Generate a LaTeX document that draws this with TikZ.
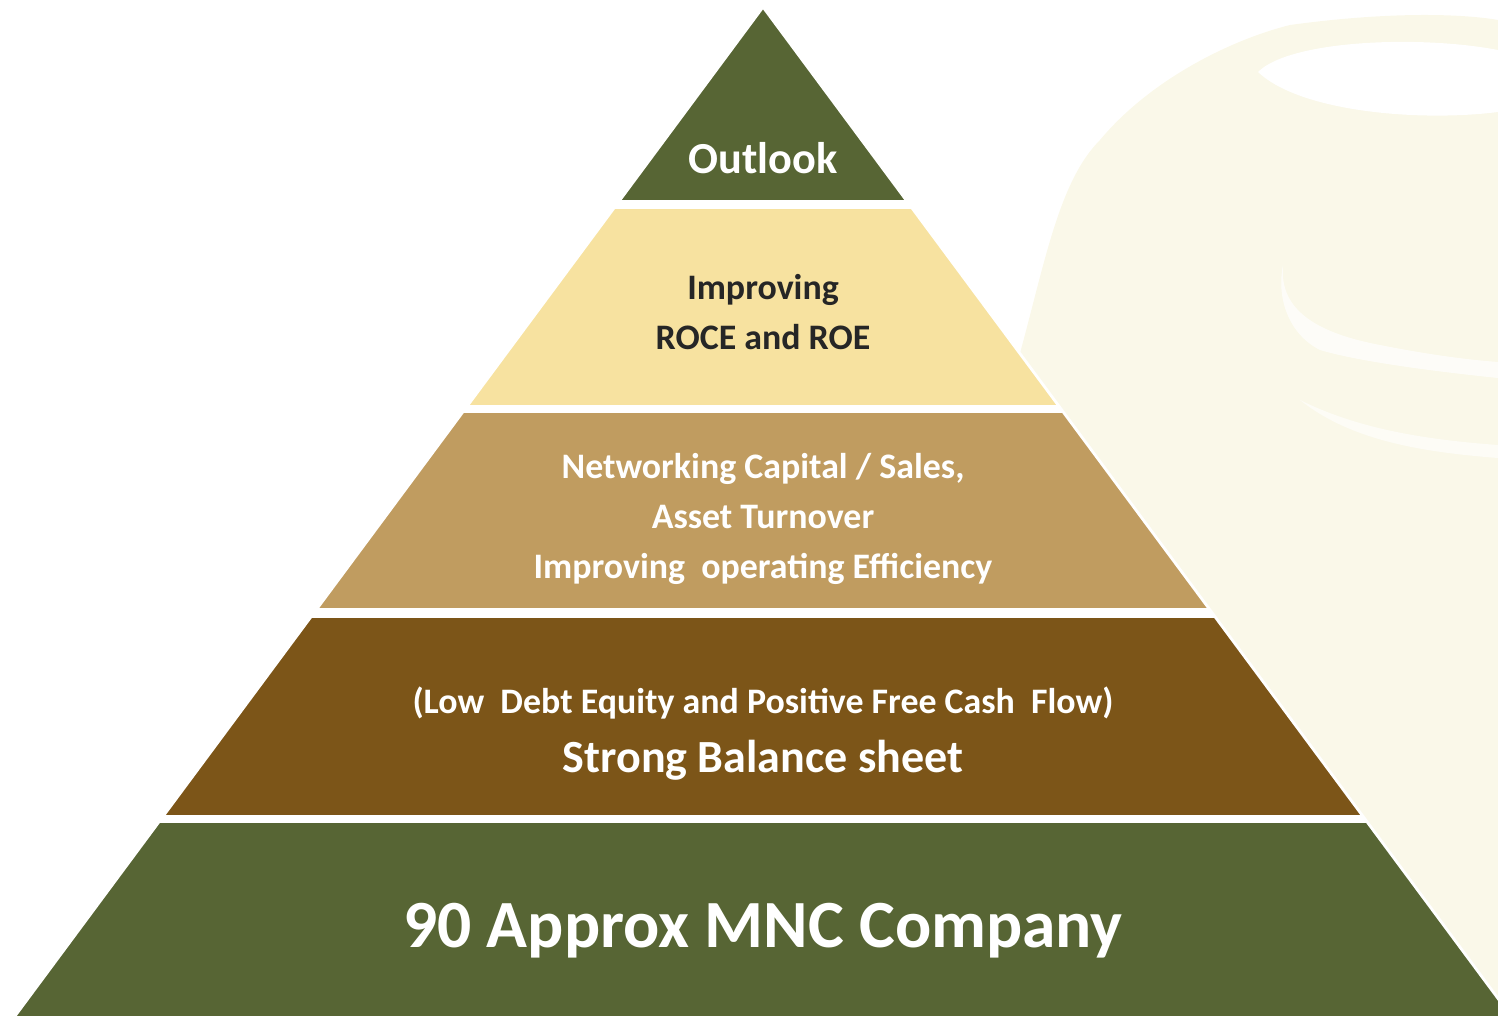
\documentclass[tikz,border=0pt]{standalone}
\usepackage{fontspec}
\setmainfont{Carlito}
\usepackage{tikz}
\usetikzlibrary{positioning}

\definecolor{olivegreen}{RGB}{87,101,52}
\definecolor{paleyellow}{RGB}{247,226,160}
\definecolor{tanbrown}{RGB}{192,156,96}
\definecolor{darkbrown}{RGB}{124,85,24}
\definecolor{creamwash}{RGB}{250,248,233}

\begin{document}
\begin{tikzpicture}[x=0.01cm,y=-0.01cm,node distance=0.5cm,on grid,
	tier/.style={font=\bfseries\fontsize{10.2}{14.2}\selectfont, align=center},
	light/.style={tier, text=white},
	dark/.style={tier, text=black!85}]
	\useasboundingbox (0,0) rectangle (1498,1016);
	% faint watermark behind the pyramid
	\fill[creamwash] (1290,25) .. controls (1400,10) and (1470,15) .. (1498,20)
	   -- (1498,1016) -- (1000,1016) -- (1000,420)
	   .. controls (1040,300) and (1050,190) .. (1100,140)
	   .. controls (1150,80) and (1230,40) .. (1290,25);
	\fill[white] (1258,72) .. controls (1290,40) and (1420,35) .. (1498,50)
	   -- (1498,112) .. controls (1420,122) and (1300,112) .. (1258,72);
	\fill[white, opacity=0.7] (1283,265) .. controls (1280,300) and (1300,330) .. (1380,345)
	   .. controls (1430,355) and (1470,360) .. (1498,362)
	   -- (1498,378) .. controls (1440,372) and (1360,362) .. (1320,350)
	   .. controls (1290,335) and (1276,300) .. (1283,265);
	\fill[white, opacity=0.6] (1300,400) .. controls (1360,430) and (1430,440) .. (1498,445)
	   -- (1498,458) .. controls (1420,452) and (1350,440) .. (1300,400);

	% tiers
	\begin{scope}
		\clip (763,7) -- (15,1016) -- (1511,1016) -- cycle;
		\fill[white] (0,0) rectangle (1498,1016);
		\fill[olivegreen] (0,0) rectangle (1498,200);
		\fill[paleyellow] (0,209) rectangle (1498,405);
		\fill[tanbrown] (0,413) rectangle (1498,608);
		\fill[darkbrown] (0,618) rectangle (1498,815);
		\fill[olivegreen] (0,823) rectangle (1498,1016);
	\end{scope}
	\draw[white, line width=0.8pt] (15,1016) -- (763,7) -- (1511,1016);

	\node[light, font=\bfseries\fontsize{12.6}{15}\selectfont] (outlook) at (763,158) {Outlook};
	\node[dark] (roce) at (763,312) {Improving\\ROCE and ROE};
	\node[light] (wc) at (763,519) {Networking Capital / Sales,\\Asset Turnover\\Improving~ operating Efficiency};
	\node[light, font=\bfseries\fontsize{10.2}{12}\selectfont] (debt) at (763,703) {(Low~ Debt Equity and Positive Free Cash~ Flow)};
	\node[light, font=\bfseries\fontsize{13.1}{16}\selectfont] (sheet) [below=0.57cm of debt] {Strong Balance sheet};
	\node[light, font=\bfseries\fontsize{19.2}{22}\selectfont] (mnc) at (763,931) {90 Approx MNC Company};
\end{tikzpicture}
\end{document}
